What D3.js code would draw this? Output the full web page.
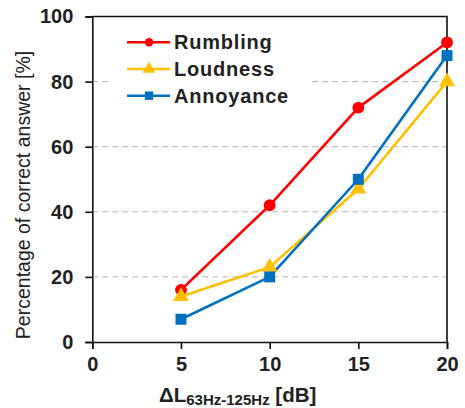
<!DOCTYPE html>
<html>
<head>
<meta charset="utf-8">
<script src="https://cdn.jsdelivr.net/npm/d3@7"></script>
<style>
  body { margin: 0; background: #fff; }
  svg { display: block; font-family: "Liberation Sans", Arial, sans-serif; }
</style>
</head>
<body>
<div id="chart"></div>
<script>
const width = 465, height = 408;
const margin = {top: 16.5, right: 18, bottom: 66, left: 92.3};

// data
const xValues = [5, 10, 15, 20];
const rumbling = [16, 42, 72, 92];
const loudness = [14, 23, 47, 80];
const annoyance = [7, 20, 50, 88];
const xTicks = [0, 5, 10, 15, 20];
const yTicks = [0, 20, 40, 60, 80, 100];
const gridTicks = [20, 40, 60, 80];

const series = [
    {name: "Rumbling", values: rumbling, color: "#ff0000", symbol: d3.symbolCircle},
    {name: "Loudness", values: loudness, color: "#ffc000", symbol: d3.symbolTriangle},
    {name: "Annoyance", values: annoyance, color: "#0070c0", symbol: d3.symbolSquare}
];

let svg = d3.select("#chart").append("svg")
    .attr("width", width)
    .attr("height", height);

let x = d3.scaleLinear()
    .domain([0, 20])
    .range([margin.left, width - margin.right]);

let y = d3.scaleLinear()
    .domain([0, 100])
    .range([height - margin.bottom, margin.top]);

// dashed grid
svg.append("g")
    .selectAll("line")
    .data(gridTicks)
    .join("line")
        .attr("x1", x(0))
        .attr("x2", x(20))
        .attr("y1", d => y(d))
        .attr("y2", d => y(d))
        .attr("stroke", "#b4b4b4")
        .attr("stroke-width", 1)
        .attr("stroke-dasharray", "6,4");

// frame (top and right)
svg.append("path")
    .attr("d", `M${x(0)},${y(100)}H${x(20)}V${y(0)}`)
    .attr("fill", "none")
    .attr("stroke", "#111")
    .attr("stroke-width", 1.6);

let xAxis = g => g
    .attr("transform", `translate(0,${y(0)})`)
    .call(d3.axisBottom(x).tickValues(xTicks).tickSize(7).tickPadding(8))
    .call(g => g.select(".domain").attr("stroke", "#111").attr("stroke-width", 1.6))
    .call(g => g.selectAll(".tick line").attr("stroke", "#111").attr("stroke-width", 1.6))
    .call(g => g.selectAll(".tick text")
        .attr("fill", "#222")
        .attr("font-size", 20)
        .attr("font-weight", "bold"));

let yAxis = g => g
    .attr("transform", `translate(${x(0)},0)`)
    .call(d3.axisLeft(y).tickValues(yTicks).tickSize(7).tickPadding(12))
    .call(g => g.select(".domain").attr("stroke", "#111").attr("stroke-width", 1.6))
    .call(g => g.selectAll(".tick line").attr("stroke", "#111").attr("stroke-width", 1.6))
    .call(g => g.selectAll(".tick text")
        .attr("fill", "#222")
        .attr("font-size", 20)
        .attr("font-weight", "bold"));

svg.append("g").call(xAxis);
svg.append("g").call(yAxis);

// axis titles
svg.append("text")
    .attr("transform", `translate(30,195) rotate(-90)`)
    .attr("text-anchor", "middle")
    .attr("font-size", 19.5)
    .attr("fill", "#222")
    .text("Percentage of correct answer [%]");

let xt = svg.append("text")
    .attr("x", 159)
    .attr("y", 402)
    .attr("font-weight", "bold")
    .attr("font-size", 20.5)
    .attr("fill", "#222");
xt.append("tspan").text("ΔL");
xt.append("tspan").attr("font-size", 15).attr("dy", 3).text("63Hz-125Hz");
xt.append("tspan").attr("dy", -3).text(" [dB]");

// lines and markers
let line = d3.line()
    .x((d, i) => x(xValues[i]))
    .y(d => y(d));

let markerSize = {"Rumbling": 110, "Loudness": 110, "Annoyance": 120};

series.forEach(s => {
    svg.append("path")
        .datum(s.values)
        .attr("fill", "none")
        .attr("stroke", s.color)
        .attr("stroke-width", 2.6)
        .attr("stroke-linejoin", "round")
        .attr("d", line);
});
series.forEach(s => {
    svg.append("g")
        .selectAll("path")
        .data(s.values)
        .join("path")
            .attr("transform", (d, i) => `translate(${x(xValues[i])},${y(d)})`)
            .attr("d", d3.symbol().type(s.symbol).size(markerSize[s.name]))
            .attr("fill", s.color);
});

// legend
let legend = svg.append("g");
legend.append("rect")
    .attr("x", 108)
    .attr("y", 28)
    .attr("width", 203)
    .attr("height", 80)
    .attr("fill", "#fff");

let legendItem = legend.selectAll("g")
    .data(series)
    .join("g")
        .attr("transform", (d, i) => `translate(0,${42.3 + i * 26.7})`);

legendItem.append("line")
    .attr("x1", 127)
    .attr("x2", 170)
    .attr("stroke", d => d.color)
    .attr("stroke-width", 2.6);
legendItem.append("path")
    .attr("transform", "translate(149,0)")
    .attr("d", d => d3.symbol().type(d.symbol).size(d.name == "Rumbling" ? 55 : 70)())
    .attr("fill", d => d.color);
legendItem.append("text")
    .attr("x", 174)
    .attr("y", 7)
    .attr("font-size", 20)
    .attr("font-weight", "bold")
    .attr("letter-spacing", 0.8)
    .attr("fill", "#222")
    .text(d => d.name);
</script>
</body>
</html>
